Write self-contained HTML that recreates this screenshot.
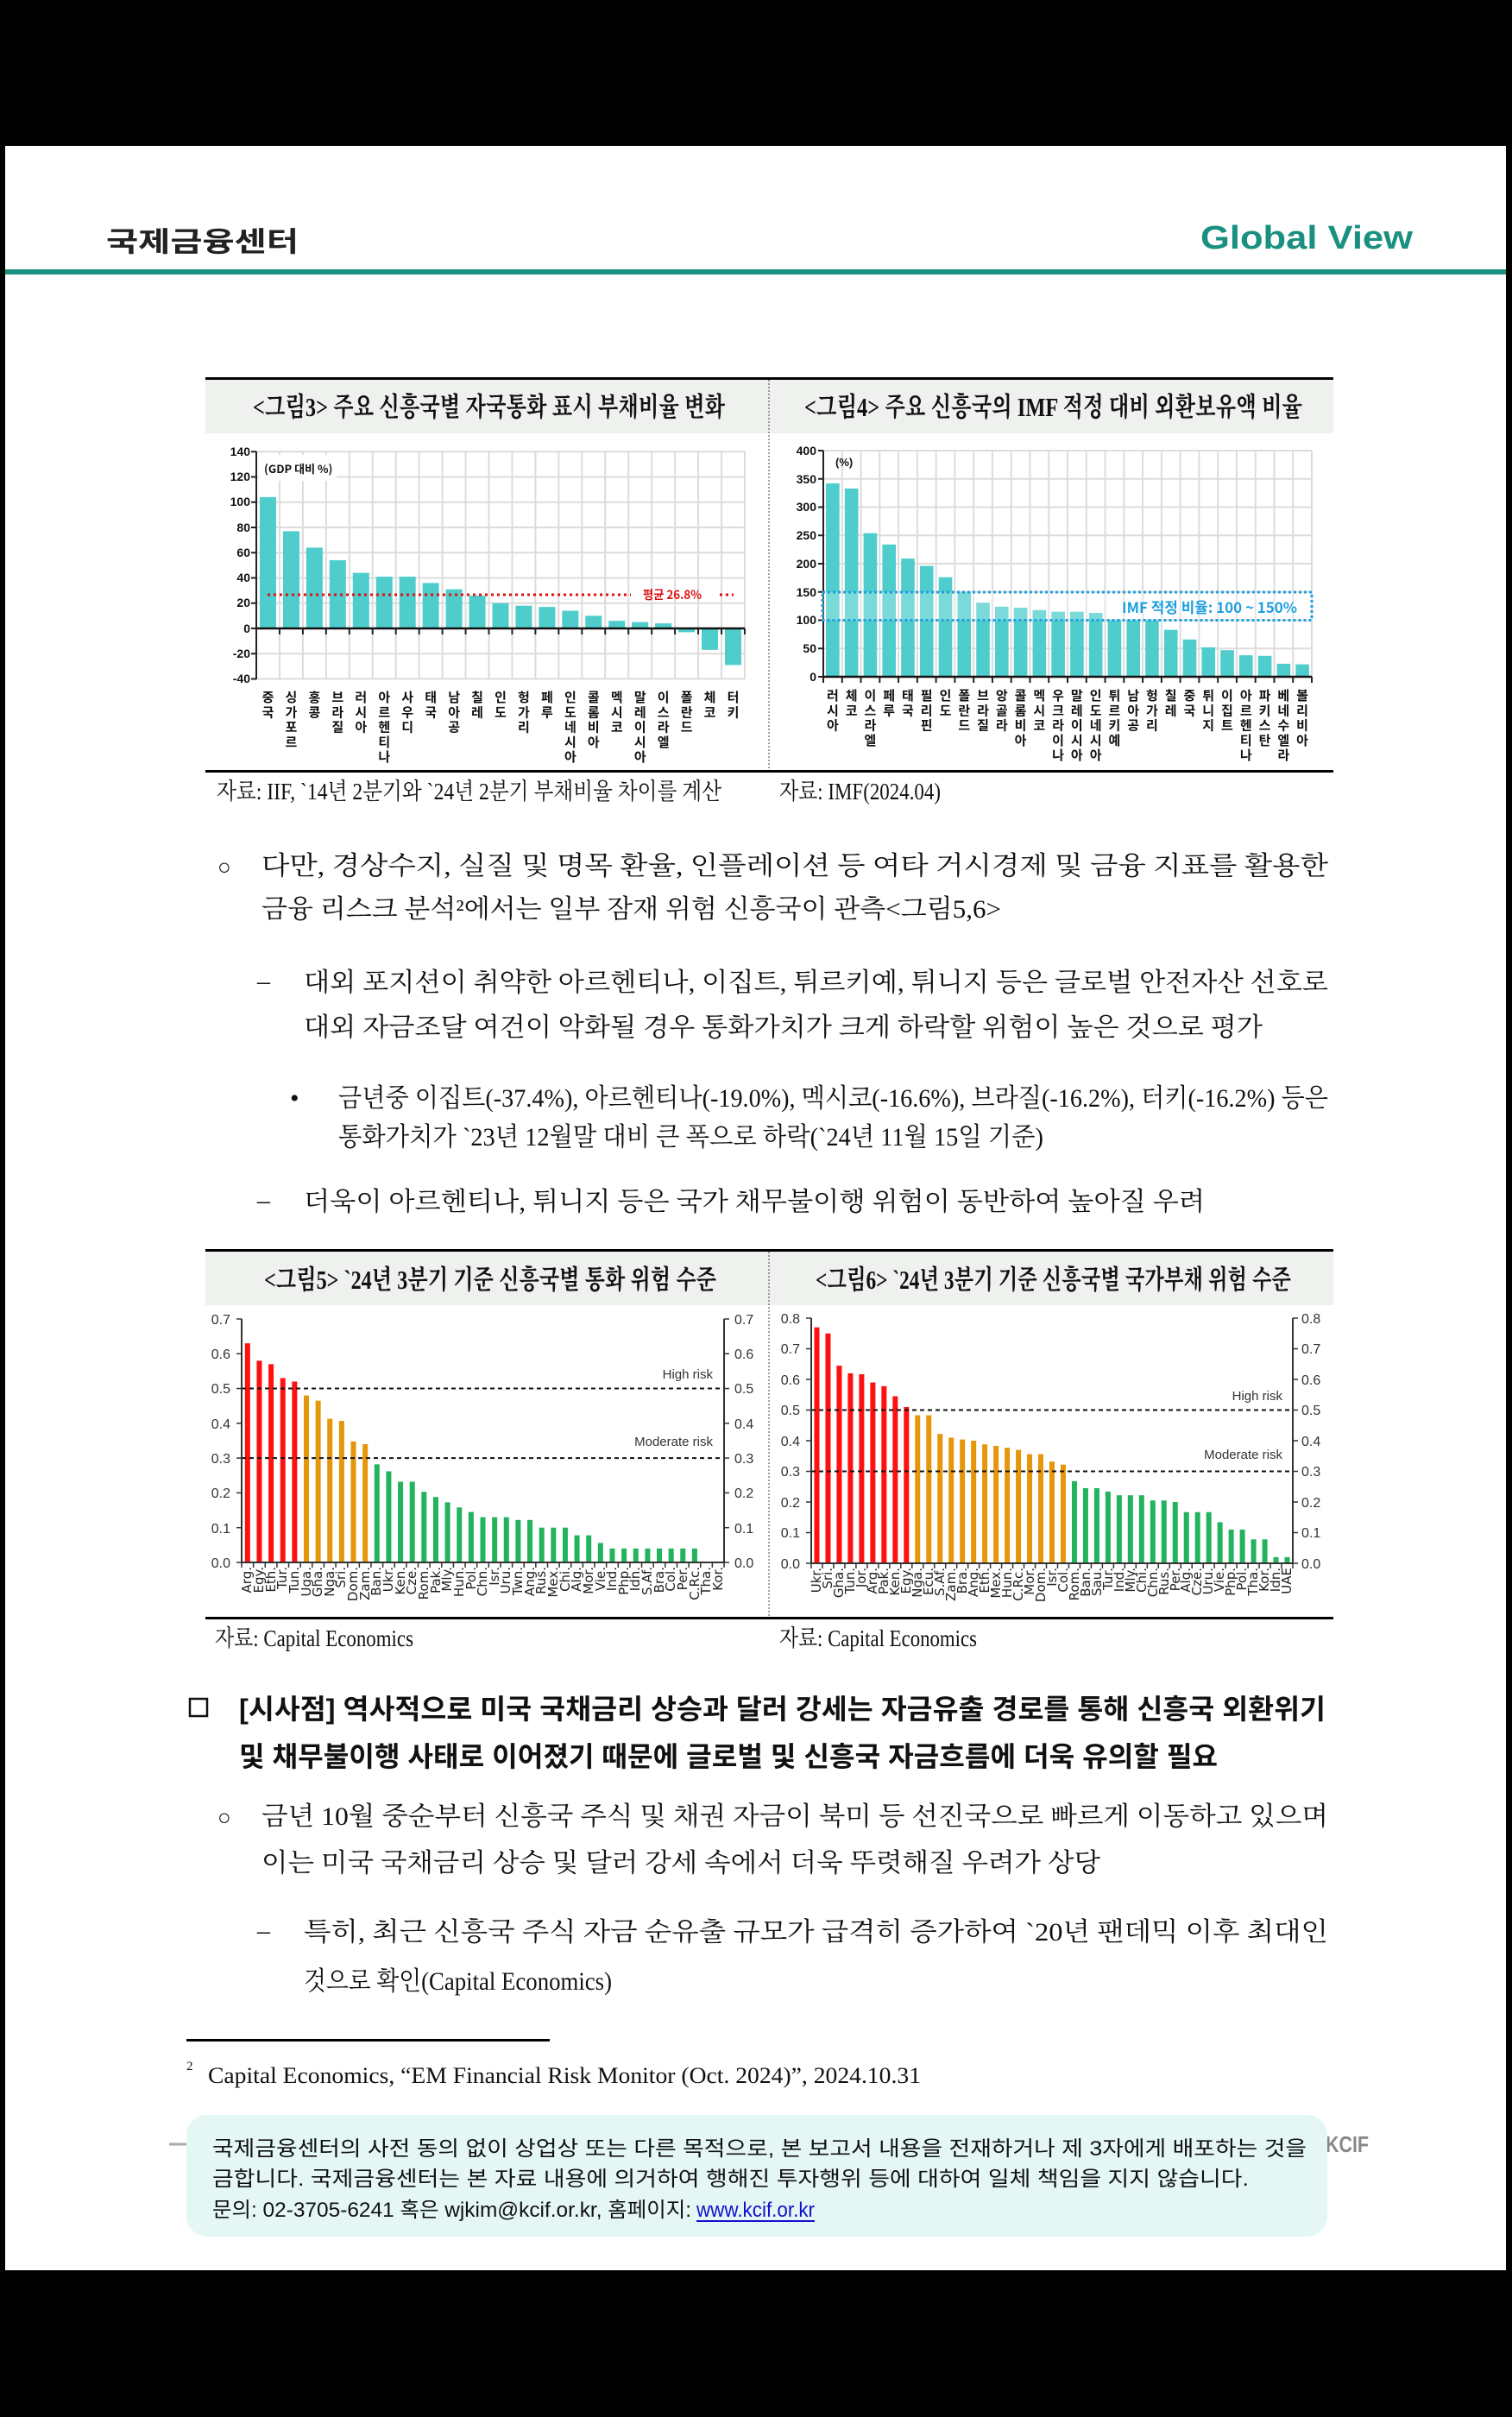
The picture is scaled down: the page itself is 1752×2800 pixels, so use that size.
<!DOCTYPE html>
<html><head><meta charset="utf-8">
<style>
html,body{margin:0;padding:0;background:#000;}
#pg{position:relative;width:1752px;height:2800px;overflow:hidden;background:#000;}
svg{position:absolute;left:0;top:0;}
.lab{position:absolute;display:flex;}
.lab>div{flex:1 1 0;min-width:0;width:0;display:flex;justify-content:center;align-items:flex-start;overflow:visible;}
.kv span{writing-mode:vertical-rl;text-orientation:upright;font-family:"Noto Sans CJK KR","NanumGothic",sans-serif;font-weight:700;font-size:15px;letter-spacing:2.2px;line-height:1;color:#111;}
.ev span{writing-mode:vertical-rl;transform:rotate(180deg);font-family:"DejaVu Sans","Liberation Sans",sans-serif;font-size:15px;line-height:1;color:#222;}
</style></head><body><div id="pg">
<svg width="1752" height="2800" viewBox="0 0 1752 2800" xmlns="http://www.w3.org/2000/svg">
<rect x="0" y="0" width="1752" height="2800" fill="#000"/>
<rect x="6" y="169" width="1739" height="2461" fill="#fff"/>
<text x="123" y="291" font-family="Noto Sans CJK KR, sans-serif" font-weight="700" font-size="32" fill="#222" textLength="223" lengthAdjust="spacingAndGlyphs">국제금융센터</text>
<text x="1391" y="288" font-family="Liberation Sans, sans-serif" font-weight="700" font-size="38" fill="#1a9080" textLength="246" lengthAdjust="spacingAndGlyphs">Global View</text>
<rect x="6" y="312" width="1739" height="6" fill="#1a9080"/>

<!-- panel 1 -->
<rect x="238" y="440" width="1307" height="62" fill="#eef1ee"/>
<rect x="238" y="437" width="1307" height="3" fill="#000"/>
<rect x="238" y="892" width="1307" height="3" fill="#000"/>
<line x1="891" y1="440" x2="891" y2="892" stroke="#444" stroke-width="1" stroke-dasharray="2 2"/>
<text x="293" y="482" font-family="Liberation Serif, Noto Serif CJK KR, serif" font-weight="700" font-size="31" fill="#111" textLength="547" lengthAdjust="spacingAndGlyphs">&lt;그림3&gt; 주요 신흥국별 자국통화 표시 부채비율 변화</text>
<text x="932" y="482" font-family="Liberation Serif, Noto Serif CJK KR, serif" font-weight="700" font-size="31" fill="#111" textLength="577" lengthAdjust="spacingAndGlyphs">&lt;그림4&gt; 주요 신흥국의 IMF 적정 대비 외환보유액 비율</text>
<g id="g1"></g>
<g id="g2"></g>
<g font-family="Liberation Sans, sans-serif" font-weight="700" font-size="14" fill="#111" text-anchor="end">
<text x="290" y="528">140</text><text x="290" y="557">120</text><text x="290" y="586">100</text><text x="290" y="616">80</text><text x="290" y="645">60</text><text x="290" y="674">40</text><text x="290" y="703">20</text><text x="290" y="733">0</text><text x="290" y="762">-20</text><text x="290" y="791">-40</text>
<text x="946" y="527">400</text><text x="946" y="560">350</text><text x="946" y="592">300</text><text x="946" y="625">250</text><text x="946" y="658">200</text><text x="946" y="691">150</text><text x="946" y="723">100</text><text x="946" y="756">50</text><text x="946" y="789">0</text>
</g>
<rect x="300" y="527" width="90" height="30" fill="#fff"/>
<text x="306" y="548" font-family="Noto Sans CJK KR, sans-serif" font-weight="700" font-size="13" fill="#111">(GDP 대비 %)</text>
<text x="968" y="540" font-family="Liberation Sans, sans-serif" font-weight="700" font-size="13" fill="#111">(%)</text>
<line x1="310" y1="689" x2="731" y2="689" stroke="#e01010" stroke-width="3" stroke-dasharray="3 4"/>
<line x1="834" y1="689" x2="850" y2="689" stroke="#e01010" stroke-width="3" stroke-dasharray="3 4"/>
<text x="745" y="694" font-family="Noto Sans CJK KR, sans-serif" font-weight="700" font-size="14" fill="#e01010" textLength="68" lengthAdjust="spacingAndGlyphs">평균 26.8%</text>
<rect x="953" y="686" width="567" height="32.5" fill="#fff" fill-opacity="0.25" stroke="#1e9fe0" stroke-width="3" stroke-dasharray="3 3"/>
<text x="1300" y="710" font-family="Noto Sans CJK KR, sans-serif" font-weight="700" font-size="17" fill="#1e9fe0" textLength="203" lengthAdjust="spacingAndGlyphs">IMF 적정 비율: 100 ~ 150%</text>
<text x="251" y="926" font-family="Liberation Serif, Noto Serif CJK KR, serif" font-size="27" fill="#111" textLength="585" lengthAdjust="spacingAndGlyphs">자료: IIF, `14년 2분기와 `24년 2분기 부채비율 차이를 계산</text>
<text x="903" y="926" font-family="Liberation Serif, Noto Serif CJK KR, serif" font-size="27" fill="#111" textLength="187" lengthAdjust="spacingAndGlyphs">자료: IMF(2024.04)</text>

<!-- body text -->
<g font-family="Liberation Serif, Noto Serif CJK KR, serif" font-size="30" fill="#111" lengthAdjust="spacingAndGlyphs">
<text x="252" y="1013" font-size="26">○</text>
<text x="303" y="1013" textLength="1236" lengthAdjust="spacingAndGlyphs">다만, 경상수지, 실질 및 명목 환율, 인플레이션 등 여타 거시경제 및 금융 지표를 활용한</text>
<text x="303" y="1063" textLength="857" lengthAdjust="spacingAndGlyphs">금융 리스크 분석²에서는 일부 잠재 위험 신흥국이 관측&lt;그림5,6&gt;</text>
<text x="298" y="1146">–</text>
<text x="352" y="1148" textLength="1187" lengthAdjust="spacingAndGlyphs">대외 포지션이 취약한 아르헨티나, 이집트, 튀르키예, 튀니지 등은 글로벌 안전자산 선호로</text>
<text x="352" y="1200" textLength="1111" lengthAdjust="spacingAndGlyphs">대외 자금조달 여건이 악화될 경우 통화가치가 크게 하락할 위험이 높은 것으로 평가</text>
<text x="336" y="1282">•</text>
<text x="392" y="1282" textLength="1147" lengthAdjust="spacingAndGlyphs">금년중 이집트(-37.4%), 아르헨티나(-19.0%), 멕시코(-16.6%), 브라질(-16.2%), 터키(-16.2%) 등은</text>
<text x="392" y="1327" textLength="817" lengthAdjust="spacingAndGlyphs">통화가치가 `23년 12월말 대비 큰 폭으로 하락(`24년 11월 15일 기준)</text>
<text x="298" y="1400">–</text>
<text x="352" y="1402" textLength="1044" lengthAdjust="spacingAndGlyphs">더욱이 아르헨티나, 튀니지 등은 국가 채무불이행 위험이 동반하여 높아질 우려</text>
</g>

<!-- panel 2 -->
<rect x="238" y="1450" width="1307" height="62" fill="#eef1ee"/>
<rect x="238" y="1447" width="1307" height="3" fill="#000"/>
<rect x="238" y="1873" width="1307" height="3" fill="#000"/>
<line x1="891" y1="1450" x2="891" y2="1873" stroke="#444" stroke-width="1" stroke-dasharray="2 2"/>
<text x="306" y="1493" font-family="Liberation Serif, Noto Serif CJK KR, serif" font-weight="700" font-size="31" fill="#111" textLength="524" lengthAdjust="spacingAndGlyphs">&lt;그림5&gt; `24년 3분기 기준 신흥국별 통화 위험 수준</text>
<text x="945" y="1493" font-family="Liberation Serif, Noto Serif CJK KR, serif" font-weight="700" font-size="31" fill="#111" textLength="551" lengthAdjust="spacingAndGlyphs">&lt;그림6&gt; `24년 3분기 기준 신흥국별 국가부채 위험 수준</text>
<g id="g5"></g>
<g id="g6"></g>
<g font-family="Liberation Sans, sans-serif" font-size="16" fill="#333">
<g text-anchor="end">
<text x="267" y="1816">0.0</text><text x="267" y="1776">0.1</text><text x="267" y="1735">0.2</text><text x="267" y="1695">0.3</text><text x="267" y="1655">0.4</text><text x="267" y="1614">0.5</text><text x="267" y="1574">0.6</text><text x="267" y="1534">0.7</text>
<text x="927" y="1817">0.0</text><text x="927" y="1781">0.1</text><text x="927" y="1746">0.2</text><text x="927" y="1710">0.3</text><text x="927" y="1675">0.4</text><text x="927" y="1639">0.5</text><text x="927" y="1604">0.6</text><text x="927" y="1568">0.7</text><text x="927" y="1533">0.8</text>
<text x="826" y="1597" font-size="15">High risk</text>
<text x="826" y="1675" font-size="15">Moderate risk</text>
<text x="1486" y="1622" font-size="15">High risk</text>
<text x="1486" y="1690" font-size="15">Moderate risk</text>
</g>
<text x="851" y="1816">0.0</text><text x="851" y="1776">0.1</text><text x="851" y="1735">0.2</text><text x="851" y="1695">0.3</text><text x="851" y="1655">0.4</text><text x="851" y="1614">0.5</text><text x="851" y="1574">0.6</text><text x="851" y="1534">0.7</text>
<text x="1508" y="1817">0.0</text><text x="1508" y="1781">0.1</text><text x="1508" y="1746">0.2</text><text x="1508" y="1710">0.3</text><text x="1508" y="1675">0.4</text><text x="1508" y="1639">0.5</text><text x="1508" y="1604">0.6</text><text x="1508" y="1568">0.7</text><text x="1508" y="1533">0.8</text>
</g>
<text x="249" y="1907" font-family="Liberation Serif, Noto Serif CJK KR, serif" font-size="27" fill="#111" textLength="230" lengthAdjust="spacingAndGlyphs">자료: Capital Economics</text>
<text x="903" y="1907" font-family="Liberation Serif, Noto Serif CJK KR, serif" font-size="27" fill="#111" textLength="229" lengthAdjust="spacingAndGlyphs">자료: Capital Economics</text>

<!-- bottom text -->
<g font-family="Liberation Sans, Noto Sans CJK KR, sans-serif" font-weight="700" font-size="32" fill="#111">
<rect x="220" y="1968" width="20" height="20" fill="none" stroke="#111" stroke-width="2.5"/>
<text x="277" y="1991" textLength="1259" lengthAdjust="spacingAndGlyphs">[시사점] 역사적으로 미국 국채금리 상승과 달러 강세는 자금유출 경로를 통해 신흥국 외환위기</text>
<text x="277" y="2046" textLength="1134" lengthAdjust="spacingAndGlyphs">및 채무불이행 사태로 이어졌기 때문에 글로벌 및 신흥국 자금흐름에 더욱 유의할 필요</text>
</g>
<g font-family="Liberation Serif, Noto Serif CJK KR, serif" font-size="30" fill="#111">
<text x="252" y="2114" font-size="26">○</text>
<text x="303" y="2114" textLength="1236" lengthAdjust="spacingAndGlyphs">금년 10월 중순부터 신흥국 주식 및 채권 자금이 북미 등 선진국으로 빠르게 이동하고 있으며</text>
<text x="303" y="2168" textLength="972" lengthAdjust="spacingAndGlyphs">이는 미국 국채금리 상승 및 달러 강세 속에서 더욱 뚜렷해질 우려가 상당</text>
<text x="298" y="2246">–</text>
<text x="352" y="2248" textLength="1187" lengthAdjust="spacingAndGlyphs">특히, 최근 신흥국 주식 자금 순유출 규모가 급격히 증가하여 `20년 팬데믹 이후 최대인</text>
<text x="352" y="2305" textLength="357" lengthAdjust="spacingAndGlyphs">것으로 확인(Capital Economics)</text>
</g>

<!-- footnote -->
<rect x="216" y="2362" width="421" height="3" fill="#000"/>
<text x="216" y="2398" font-family="Liberation Serif, serif" font-size="15" fill="#111">2</text>
<text x="241" y="2413" font-family="Liberation Serif, serif" font-size="26" fill="#111" textLength="826" lengthAdjust="spacingAndGlyphs">Capital Economics, “EM Financial Risk Monitor (Oct. 2024)”, 2024.10.31</text>
<line x1="196" y1="2484" x2="1530" y2="2484" stroke="#aaa" stroke-width="3"/>
<text x="1536" y="2493" font-family="Liberation Sans, sans-serif" font-weight="700" font-size="26" fill="#888" textLength="50" lengthAdjust="spacingAndGlyphs">KCIF</text>
<rect x="216" y="2450" width="1322" height="141" rx="24" fill="#e4f7f4"/>
<g font-family="Liberation Sans, Noto Sans CJK KR, sans-serif" font-size="24" fill="#111">
<text x="246" y="2497" textLength="1268" lengthAdjust="spacingAndGlyphs">국제금융센터의 사전 동의 없이 상업상 또는 다른 목적으로, 본 보고서 내용을 전재하거나 제 3자에게 배포하는 것을</text>
<text x="246" y="2532" textLength="1201" lengthAdjust="spacingAndGlyphs">금합니다. 국제금융센터는 본 자료 내용에 의거하여 행해진 투자행위 등에 대하여 일체 책임을 지지 않습니다.</text>
<text x="246" y="2568" textLength="555" lengthAdjust="spacingAndGlyphs">문의: 02-3705-6241 혹은 wjkim@kcif.or.kr, 홈페이지:</text>
<text x="807" y="2568" fill="#1010cc" textLength="137" lengthAdjust="spacingAndGlyphs">www.kcif.or.kr</text>
</g>
<rect x="807" y="2572" width="137" height="2" fill="#1010cc"/>
</svg>

<!-- category labels -->
<div class="lab kv" style="left:297px;top:800px;width:566px;">
<div><span>중국</span></div><div><span>싱가포르</span></div><div><span>홍콩</span></div><div><span>브라질</span></div><div><span>러시아</span></div><div><span>아르헨티나</span></div><div><span>사우디</span></div><div><span>태국</span></div><div><span>남아공</span></div><div><span>칠레</span></div><div><span>인도</span></div><div><span>헝가리</span></div><div><span>페루</span></div><div><span>인도네시아</span></div><div><span>콜롬비아</span></div><div><span>멕시코</span></div><div><span>말레이시아</span></div><div><span>이스라엘</span></div><div><span>폴란드</span></div><div><span>체코</span></div><div><span>터키</span></div>
</div>
<div class="lab kv" style="left:954px;top:798px;width:566px;">
<div><span>러시아</span></div><div><span>체코</span></div><div><span>이스라엘</span></div><div><span>페루</span></div><div><span>태국</span></div><div><span>필리핀</span></div><div><span>인도</span></div><div><span>폴란드</span></div><div><span>브라질</span></div><div><span>앙골라</span></div><div><span>콜롬비아</span></div><div><span>멕시코</span></div><div><span>우크라이나</span></div><div><span>말레이시아</span></div><div><span>인도네시아</span></div><div><span>튀르키예</span></div><div><span>남아공</span></div><div><span>헝가리</span></div><div><span>칠레</span></div><div><span>중국</span></div><div><span>튀니지</span></div><div><span>이집트</span></div><div><span>아르헨티나</span></div><div><span>파키스탄</span></div><div><span>베네수엘라</span></div><div><span>볼리비아</span></div>
</div>
<div class="lab ev" style="left:280px;top:1815px;width:559px;">
<div><span>Arg.</span></div><div><span>Egy.</span></div><div><span>Eth.</span></div><div><span>Tur.</span></div><div><span>Tun.</span></div><div><span>Uga.</span></div><div><span>Gha.</span></div><div><span>Nga.</span></div><div><span>Sri.</span></div><div><span>Dom.</span></div><div><span>Zam.</span></div><div><span>Ban.</span></div><div><span>Ukr.</span></div><div><span>Ken.</span></div><div><span>Cze.</span></div><div><span>Rom.</span></div><div><span>Pak.</span></div><div><span>Mly.</span></div><div><span>Hun.</span></div><div><span>Pol.</span></div><div><span>Chn.</span></div><div><span>Isr.</span></div><div><span>Uru.</span></div><div><span>Twn.</span></div><div><span>Ang.</span></div><div><span>Rus.</span></div><div><span>Mex.</span></div><div><span>Chi.</span></div><div><span>Alg.</span></div><div><span>Mor.</span></div><div><span>Vie.</span></div><div><span>Ind.</span></div><div><span>Php.</span></div><div><span>Idn.</span></div><div><span>S.Af.</span></div><div><span>Bra.</span></div><div><span>Col.</span></div><div><span>Per.</span></div><div><span>C.Rc.</span></div><div><span>Tha.</span></div><div><span>Kor.</span></div>
</div>
<div class="lab ev" style="left:940px;top:1816px;width:558px;">
<div><span>Ukr.</span></div><div><span>Sri.</span></div><div><span>Gha.</span></div><div><span>Tun.</span></div><div><span>Jor.</span></div><div><span>Arg.</span></div><div><span>Pak.</span></div><div><span>Ken.</span></div><div><span>Egy.</span></div><div><span>Nga.</span></div><div><span>Ecu.</span></div><div><span>S.Af.</span></div><div><span>Zam.</span></div><div><span>Bra.</span></div><div><span>Ang.</span></div><div><span>Eth.</span></div><div><span>Mex.</span></div><div><span>Hun.</span></div><div><span>C.Rc.</span></div><div><span>Mor.</span></div><div><span>Dom.</span></div><div><span>Isr.</span></div><div><span>Col.</span></div><div><span>Rom.</span></div><div><span>Ban.</span></div><div><span>Sau.</span></div><div><span>Tur.</span></div><div><span>Ind.</span></div><div><span>Mly.</span></div><div><span>Chi.</span></div><div><span>Chn.</span></div><div><span>Rus.</span></div><div><span>Per.</span></div><div><span>Alg.</span></div><div><span>Cze.</span></div><div><span>Uru.</span></div><div><span>Vie.</span></div><div><span>Php.</span></div><div><span>Pol.</span></div><div><span>Tha.</span></div><div><span>Kor.</span></div><div><span>Idn.</span></div><div><span>UAE</span></div>
</div>
</div>
<script>
function L(x1,y1,x2,y2,c,w,d){return '<line x1="'+x1+'" y1="'+y1+'" x2="'+x2+'" y2="'+y2+'" stroke="'+c+'" stroke-width="'+w+'"'+(d?' stroke-dasharray="'+d+'"':'')+'/>';}
function Rc(x,y,w,h,f){return '<rect x="'+x+'" y="'+y+'" width="'+w+'" height="'+h+'" fill="'+f+'"/>';}
(function(){var s='',x0=297,sl=26.95,z=728,sc=1.4625;
for(var i=0;i<=21;i++)s+=L(x0+sl*i,523,x0+sl*i,787,'#dcdcdc',2);
for(var k=-2;k<=7;k++)s+=L(x0,z-k*29.25,863,z-k*29.25,'#dcdcdc',2);
var v=[104,77,64,54,44,41,41,36,31,26,20,18,17,14,10,6,5,4,-3,-17,-29];
v.forEach(function(a,i){var c=x0+sl*(i+.5),h=Math.abs(a)*sc;s+=Rc(c-9.5,a>=0?z-h:z,19,h,'#4ecdcc');});
s+=L(x0,523,x0,787,'#222',2)+L(x0,z,863,z,'#111',2.5);
for(var k=-2;k<=7;k++)s+=L(x0-6,z-k*29.25,x0,z-k*29.25,'#222',2);
for(var i=0;i<=21;i++)s+=L(x0+sl*i,z,x0+sl*i,z+7,'#222',2);
document.getElementById('g1').innerHTML=s;})();
(function(){var s='',x0=954,sl=21.77,z=784,sc=0.655;
for(var i=0;i<=26;i++)s+=L(x0+sl*i,522,x0+sl*i,784,'#dcdcdc',2);
for(var k=0;k<=8;k++)s+=L(x0,z-k*32.75,1520,z-k*32.75,'#dcdcdc',2);
var v=[342,333,254,234,209,196,176,150,131,124,122,118,115,115,113,100,100,100,83,66,52,47,38,37,23,22];
v.forEach(function(a,i){var c=x0+sl*(i+.5),h=a*sc;s+=Rc(c-7.8,z-h,15.6,h,'#4ecdcc');});
s+=L(x0,522,x0,784,'#222',2)+L(x0,z,1520,z,'#111',2.5);
for(var k=0;k<=8;k++)s+=L(x0-6,z-k*32.75,x0,z-k*32.75,'#222',2);
for(var i=0;i<=26;i++)s+=L(x0+sl*i,z,x0+sl*i,z+7,'#222',2);
document.getElementById('g2').innerHTML=s;})();
function rk(id,x0,x1,top,z,sc,max,v,nr,no){var s='',n=v.length,sl=(x1-x0)/n;
v.forEach(function(a,i){var c=x0+sl*(i+.5),h=a*sc,col=i<nr?'#ff1010':(i<nr+no?'#e6960a':'#22b35c');if(h>0)s+=Rc(c-3,z-h,6,h,col);});
s+=L(x0,z-0.5*sc,x1,z-0.5*sc,'#111',2,'5 4')+L(x0,z-0.3*sc,x1,z-0.3*sc,'#111',2,'5 4');
s+=L(x0,top,x0,z,'#333',2)+L(x1,top,x1,z,'#333',2)+L(x0,z,x1,z,'#333',2);
for(var k=0;k<=max;k++){var y=z-k*0.1*sc;s+=L(x0-6,y,x0,y,'#333',1.5)+L(x1,y,x1+6,y,'#333',1.5);}
for(var i=0;i<=n;i++)s+=L(x0+sl*i,z,x0+sl*i,z+6,'#333',1.5);
document.getElementById(id).innerHTML=s;}
rk('g5',280,839,1528,1810,402.9,7,[.63,.58,.57,.53,.52,.48,.465,.413,.407,.348,.34,.282,.262,.232,.232,.203,.188,.173,.158,.145,.13,.13,.13,.122,.122,.1,.1,.1,.078,.078,.056,.04,.04,.04,.04,.04,.04,.04,.04,0,0],5,6);
rk('g6',940,1498,1527,1811,355,8,[.77,.75,.645,.62,.617,.59,.578,.545,.51,.483,.483,.422,.41,.404,.4,.388,.383,.377,.37,.356,.356,.332,.322,.268,.245,.245,.234,.222,.222,.222,.205,.205,.2,.167,.167,.167,.134,.11,.11,.078,.078,.02,.02],9,14);
</script>
</body></html>
